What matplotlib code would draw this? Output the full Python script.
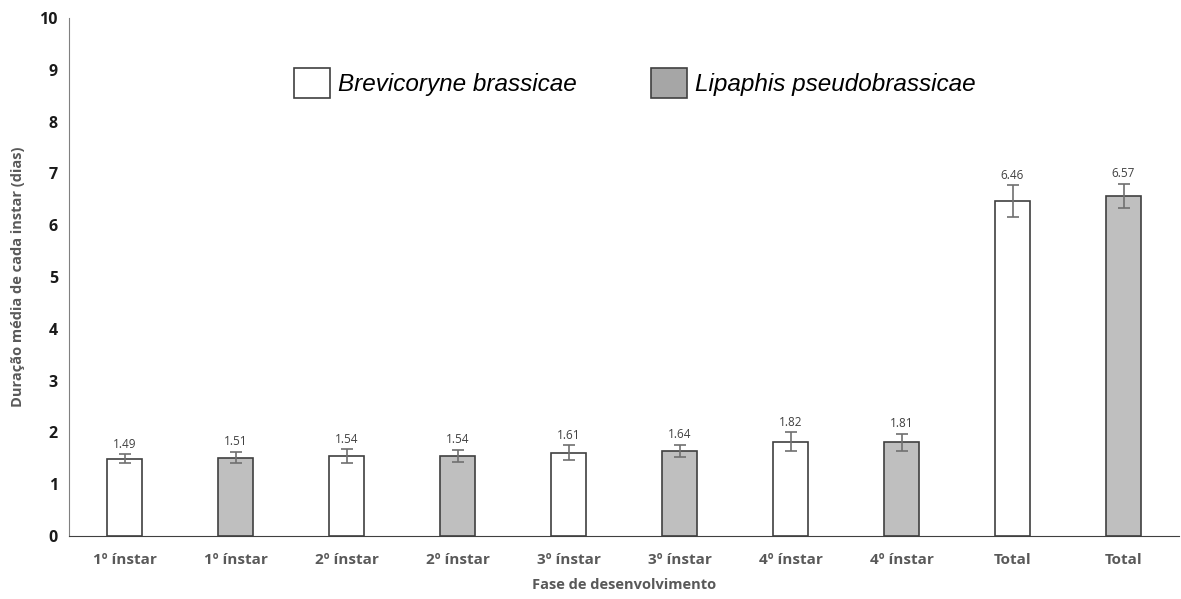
import matplotlib.pyplot as plt
import numpy as np
from matplotlib.patches import Rectangle

categories = ["1º ínstar", "1º ínstar", "2º ínstar", "2º ínstar", "3º ínstar",
              "3º ínstar", "4º ínstar", "4º ínstar", "Total", "Total"]
means = [1.49, 1.51, 1.54, 1.54, 1.61, 1.64, 1.82, 1.81, 6.46, 6.57]
errors = [0.09, 0.11, 0.13, 0.12, 0.14, 0.12, 0.18, 0.16, 0.31, 0.23]
species = ["Brevicoryne brassicae", "Lipaphis pseudobrassicae"]
colors = ["white", "#bfbfbf"]

txt = "#595959"
plt.rcParams['font.family'] = ['Open Sans', 'DejaVu Sans']

fig = plt.figure(figsize=(11.81, 5.99), dpi=100)
ax = fig.add_axes([69/1181, 63/599, 1110/1181, 518/599])

x = np.arange(len(means))
bar_colors = [colors[i % 2] for i in x]
ax.bar(x, means, width=0.32, color=bar_colors, edgecolor="#404040", linewidth=1.2, zorder=2)
ax.errorbar(x, means, yerr=errors, fmt="none", ecolor="#707070", elinewidth=1.2,
            capsize=4, capthick=1.2, zorder=3)

for xi, m, e in zip(x, means, errors):
    ax.text(xi, m + e + 0.07, f"{m:.2f}", ha="center", va="bottom", fontsize=8.5, color="#404040")

ax.set_xlim(-0.5, len(means) - 0.5)
ax.set_ylim(0, 10)
ax.set_yticks(range(0, 11))
ax.set_xticks(x)
ax.set_xticklabels(categories)
for lab in ax.get_xticklabels():
    lab.set_fontweight("bold")
    lab.set_color(txt)
    lab.set_fontsize(11)
for lab in ax.get_yticklabels():
    lab.set_fontweight("bold")
    lab.set_color("#1a1a1a")
    lab.set_fontsize(11.5)
ax.tick_params(axis="both", length=0, pad=8)
ax.tick_params(axis="x", pad=12)

ax.spines["top"].set_visible(False)
ax.spines["right"].set_visible(False)
ax.spines["left"].set_color("#808080")
ax.spines["bottom"].set_color("#404040")

ax.set_ylabel("Duração média de cada instar (dias)", fontsize=10.5, fontweight="bold", color=txt, labelpad=10)
ax.set_xlabel("Fase de desenvolvimento", fontsize=10.5, fontweight="bold", color=txt, labelpad=8)

# legend drawn as boxes + italic labels
leg_colors = ["white", "#a6a6a6"]
leg_x = [294/1181, 651/1181]
for lx, c, name in zip(leg_x, leg_colors, species):
    fig.patches.append(Rectangle((lx, 1 - 98/599), 36/1181, 30/599, transform=fig.transFigure,
                                 facecolor=c, edgecolor="#404040", linewidth=1.2))
    fig.text(lx + 44/1181, 1 - 84/599, name, fontsize=17.5, style="italic",
             family="Liberation Sans", va="center", ha="left", color="black")

fig.savefig("out.png", dpi=100)
